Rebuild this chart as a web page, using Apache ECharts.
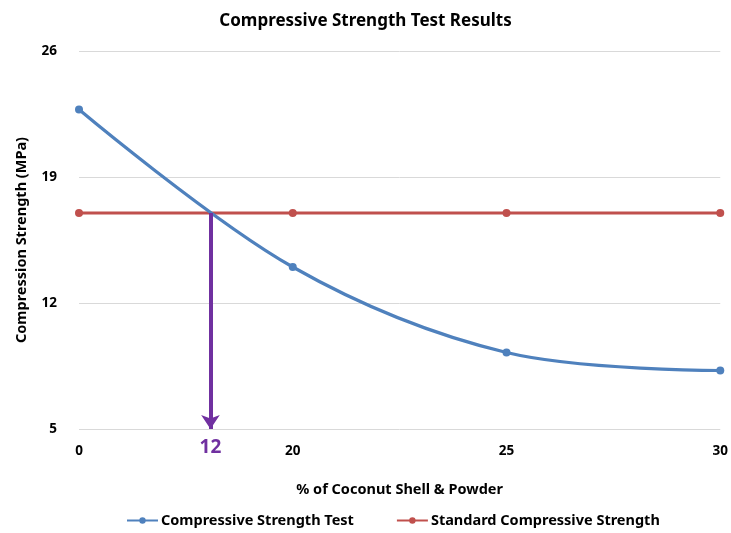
<!DOCTYPE html>
<html>
<head>
<meta charset="utf-8">
<script src="https://cdn.jsdelivr.net/npm/echarts@6/dist/echarts.min.js"></script>
<style>
html,body{margin:0;padding:0;background:#fff;}
#chart{width:731px;height:533px;}
</style>
</head>
<body>
<div id="chart"></div>
<script>
// ---- data ----
const categories = ['0', '20', '25', '30'];
const testValues = [22.75, 14.0, 9.25, 8.25];
const standardValues = [17, 17, 17, 17];
const yTicks = [5, 12, 19, 26];
// annotation: arrow drops from the crossing point (category position ~0.615) to the axis
const arrowX = 0.615;
const arrowTop = 17;
const arrowBottom = 5;
const arrowLabel = '12';

const FONT = 'Noto Sans';
const chart = echarts.init(document.getElementById('chart'));

const toPts = vals => vals.map((v, i) => [i, v]);

chart.setOption({
  backgroundColor: '#ffffff',
  animation: false,
  title: {
    text: 'Compressive Strength Test Results',
    left: 'center',
    top: 8,
    textStyle: { fontFamily: FONT, fontSize: 17, fontWeight: 'bold', color: '#000' }
  },
  grid: { left: 79, right: 9, top: 51, bottom: 104 },
  legend: {
    bottom: 0,
    left: 121,
    itemWidth: 31,
    itemHeight: 8,
    itemGap: 42,
    textStyle: { fontFamily: FONT, fontSize: 14.5, fontWeight: 'bold', color: '#000', padding: [0, 0, 0, -2] },
    data: ['Compressive Strength Test', 'Standard Compressive Strength']
  },
  xAxis: {
    type: 'value',
    min: 0,
    max: categories.length - 1,
    interval: 1,
    name: '% of Coconut Shell & Powder',
    nameLocation: 'middle',
    nameGap: 53,
    nameTextStyle: { fontFamily: FONT, fontSize: 14.5, fontWeight: 'bold', color: '#000' },
    axisLine: { show: false },
    axisTick: { show: false },
    splitLine: { show: false },
    axisLabel: {
      margin: 15,
      fontFamily: FONT, fontSize: 13.5, fontWeight: 'bold', color: '#000',
      formatter: v => categories[Math.round(v)]
    }
  },
  yAxis: {
    type: 'value',
    min: yTicks[0],
    max: yTicks[yTicks.length - 1],
    name: 'Compression Strength (MPa)',
    nameLocation: 'middle',
    nameGap: 50,
    nameTextStyle: { fontFamily: FONT, fontSize: 14.5, fontWeight: 'bold', color: '#000' },
    axisLine: { show: false },
    axisTick: { show: false, customValues: yTicks },
    axisLabel: { customValues: yTicks, margin: 22, fontFamily: FONT, fontSize: 13.5, fontWeight: 'bold', color: '#000' },
    splitLine: { show: true, lineStyle: { color: '#D9D9D9', width: 1 } }
  },
  series: [
    {
      name: 'Compressive Strength Test',
      type: 'line',
      smooth: 0.35,
      data: toPts(testValues),
      symbol: 'circle',
      symbolSize: 8,
      color: '#4F81BD',
      lineStyle: { width: 3.2, color: '#4F81BD' },
      itemStyle: { color: '#4F81BD' },
      z: 3
    },
    {
      name: 'Standard Compressive Strength',
      type: 'line',
      data: toPts(standardValues),
      symbol: 'circle',
      symbolSize: 8,
      color: '#C0504D',
      lineStyle: { width: 3.2, color: '#C0504D' },
      itemStyle: { color: '#C0504D' },
      z: 2,
      markLine: {
        silent: true,
        symbol: ['none', 'arrow'],
        symbolSize: 14,
        lineStyle: { color: '#7030A0', width: 4, type: 'solid' },
        label: {
          show: true,
          position: 'end',
          distance: 9,
          formatter: arrowLabel,
          fontFamily: FONT, fontSize: 19, fontWeight: 'bold', color: '#7030A0'
        },
        data: [[{ coord: [arrowX, arrowTop] }, { coord: [arrowX, arrowBottom] }]]
      }
    }
  ]
});
</script>
</body>
</html>
